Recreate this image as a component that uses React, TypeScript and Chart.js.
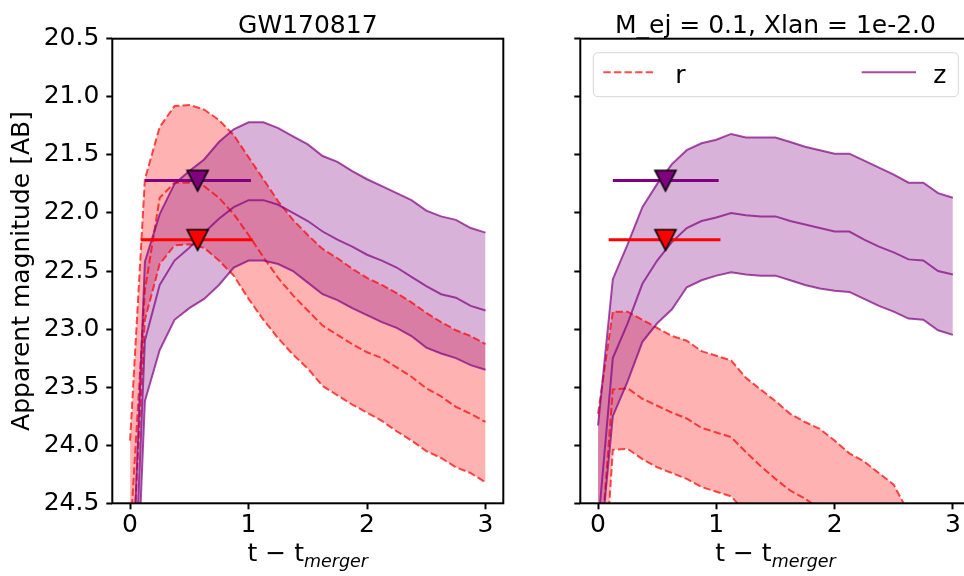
import React, { useEffect, useRef } from 'react';
import { Chart, registerables } from 'chart.js';

Chart.register(...registerables);

// ---------------- data ----------------
const T = [0, 0.125, 0.25, 0.375, 0.5, 0.625, 0.75, 0.875, 1.0, 1.125, 1.25, 1.375, 1.5, 1.625, 1.75, 1.875, 2.0, 2.125, 2.25, 2.375, 2.5, 2.625, 2.75, 2.875, 3.0];

// Left panel: GW170817
const L_R_HI = [23.96, 21.71, 21.26, 21.08, 21.07, 21.11, 21.2, 21.33, 21.52, 21.71, 21.9, 22.06, 22.19, 22.31, 22.39, 22.48, 22.56, 22.62, 22.69, 22.77, 22.86, 22.94, 23.01, 23.06, 23.13];
const L_R_MID = [24.8, 22.67, 21.87, 21.74, 21.74, 21.77, 21.87, 22.01, 22.19, 22.38, 22.56, 22.71, 22.84, 22.97, 23.05, 23.13, 23.2, 23.25, 23.33, 23.41, 23.51, 23.58, 23.67, 23.73, 23.8];
const L_R_LO = [25.4, 22.92, 22.44, 22.28, 22.27, 22.3, 22.41, 22.54, 22.74, 22.92, 23.08, 23.22, 23.34, 23.49, 23.57, 23.65, 23.72, 23.79, 23.88, 23.96, 24.05, 24.11, 24.19, 24.24, 24.32];
const L_Z_HI = [25.7, 22.42, 22.01, 21.75, 21.64, 21.54, 21.39, 21.28, 21.22, 21.22, 21.27, 21.34, 21.41, 21.51, 21.56, 21.64, 21.71, 21.77, 21.83, 21.89, 21.98, 22.03, 22.06, 22.13, 22.17];
const L_Z_MID = [26.2, 23.1, 22.62, 22.41, 22.3, 22.17, 22.05, 21.95, 21.89, 21.89, 21.93, 22.0, 22.07, 22.16, 22.23, 22.29, 22.36, 22.41, 22.47, 22.55, 22.63, 22.7, 22.73, 22.8, 22.84];
const L_Z_LO = [26.7, 23.62, 23.18, 22.92, 22.82, 22.74, 22.62, 22.47, 22.41, 22.41, 22.44, 22.5, 22.6, 22.7, 22.75, 22.82, 22.88, 22.94, 22.99, 23.06, 23.16, 23.21, 23.25, 23.31, 23.35];

// Right panel: M_ej = 0.1, Xlan = 1e-2.0
const R_R_HI = [23.73, 22.85, 22.85, 22.92, 22.99, 23.06, 23.1, 23.19, 23.23, 23.27, 23.42, 23.52, 23.62, 23.73, 23.8, 23.86, 23.96, 24.07, 24.14, 24.24, 24.34, 24.58, 24.75, 24.9, 25.05];
const R_R_MID = [25.2, 23.52, 23.51, 23.6, 23.66, 23.72, 23.77, 23.85, 23.89, 23.93, 24.06, 24.18, 24.29, 24.39, 24.46, 24.55, 24.64, 24.73, 24.8, 24.9, 25.0, 25.15, 25.25, 25.35, 25.45];
const R_R_LO = [26.0, 24.04, 24.03, 24.12, 24.19, 24.24, 24.29, 24.36, 24.4, 24.44, 24.58, 24.7, 24.8, 24.9, 24.97, 25.04, 25.12, 25.2, 25.28, 25.37, 25.45, 25.55, 25.62, 25.7, 25.77];
const R_Z_HI = [23.83, 22.57, 22.27, 21.95, 21.75, 21.58, 21.46, 21.4, 21.37, 21.32, 21.35, 21.35, 21.35, 21.39, 21.43, 21.46, 21.49, 21.49, 21.55, 21.61, 21.67, 21.74, 21.74, 21.83, 21.87];
const R_Z_MID = [24.7, 23.25, 22.95, 22.61, 22.41, 22.25, 22.13, 22.07, 22.04, 22.0, 22.02, 22.03, 22.03, 22.07, 22.1, 22.13, 22.16, 22.16, 22.23, 22.29, 22.34, 22.4, 22.41, 22.5, 22.53];
const R_Z_LO = [25.1, 23.75, 23.45, 23.11, 22.95, 22.83, 22.64, 22.58, 22.54, 22.51, 22.53, 22.54, 22.54, 22.58, 22.62, 22.65, 22.67, 22.68, 22.74, 22.8, 22.85, 22.91, 22.92, 23.01, 23.05];

// observed upper limits (r, z)
const BANDS = ['r', 'z'];
const OBS_T = [0.57, 0.57];
const OBS_MAG = [22.23, 21.72];
const OBS_T_LO = [0.09, 0.125];
const OBS_T_HI = [1.035, 1.02];

const X_TICKS = [0, 1, 2, 3];
const X_TICK_LABELS = ['0', '1', '2', '3'];
const Y_TICKS = [20.5, 21.0, 21.5, 22.0, 22.5, 23.0, 23.5, 24.0, 24.5];
const Y_TICK_LABELS = ['20.5', '21.0', '21.5', '22.0', '22.5', '23.0', '23.5', '24.0', '24.5'];

const TITLES = ['GW170817', 'M_ej = 0.1, Xlan = 1e-2.0'];
const Y_LABEL = 'Apparent magnitude [AB]';

// ---------------- styles ----------------
const FONT = '"DejaVu Sans", sans-serif';
const FS = 25;
const RED_LINE = 'rgba(255,0,0,0.7)';
const RED_FILL = 'rgba(255,0,0,0.3)';
const PUR_LINE = 'rgba(128,0,128,0.7)';
const PUR_FILL = 'rgba(128,0,128,0.3)';
const DASH = [7.4, 3.2];

function makeTriangle(fill: string) {
  const c = document.createElement('canvas');
  c.width = 26;
  c.height = 26;
  const ctx = c.getContext('2d')!;
  ctx.beginPath();
  ctx.moveTo(2.5, 3);
  ctx.lineTo(23.5, 3);
  ctx.lineTo(13, 23.5);
  ctx.closePath();
  ctx.fillStyle = fill;
  ctx.fill();
  ctx.lineWidth = 1.6;
  ctx.strokeStyle = '#000';
  ctx.stroke();
  return c;
}

const pts = (ys: number[]) => T.map((t, i) => ({ x: t, y: ys[i] }));

const decor = {
  id: 'decor',
  afterDatasetsDraw(chart: any) {
    const { ctx, chartArea: a } = chart;
    ctx.save();
    ctx.strokeStyle = '#000';
    ctx.lineWidth = 2;
    ctx.strokeRect(a.left, a.top, a.right - a.left, a.bottom - a.top);
    ctx.restore();
  },
  afterDraw(chart: any, _args: any, opts: any) {
    const { ctx, chartArea: a } = chart;
    const cx = (a.left + a.right) / 2;
    ctx.save();
    ctx.fillStyle = '#000';
    ctx.font = `${FS}px ${FONT}`;
    ctx.textAlign = 'center';
    ctx.textBaseline = 'alphabetic';
    ctx.fillText(opts.title, cx, a.top - 6);

    // x label: t − t_merger
    const main = 't \u2212 t';
    const sub = 'merger';
    ctx.font = `${FS}px ${FONT}`;
    const w1 = ctx.measureText(main).width;
    ctx.font = `italic ${FS * 0.7}px ${FONT}`;
    const w2 = ctx.measureText(sub).width;
    const x0 = cx - (w1 + w2) / 2;
    ctx.textAlign = 'left';
    ctx.font = `${FS}px ${FONT}`;
    ctx.fillText(main, x0, 561);
    ctx.font = `italic ${FS * 0.7}px ${FONT}`;
    ctx.fillText(sub, x0 + w1, 567);

    if (opts.ylabel) {
      ctx.save();
      ctx.translate(22.5, (a.top + a.bottom) / 2);
      ctx.rotate(-Math.PI / 2);
      ctx.font = `${FS}px ${FONT}`;
      ctx.textAlign = 'center';
      ctx.textBaseline = 'middle';
      ctx.fillText(opts.ylabel, 0, 0);
      ctx.restore();
    }

    if (opts.legend) {
      const bx = a.left + 13;
      const by = a.top + 14;
      const bw = 365;
      const bh = 44;
      const r = 5;
      ctx.beginPath();
      ctx.moveTo(bx + r, by);
      ctx.lineTo(bx + bw - r, by);
      ctx.quadraticCurveTo(bx + bw, by, bx + bw, by + r);
      ctx.lineTo(bx + bw, by + bh - r);
      ctx.quadraticCurveTo(bx + bw, by + bh, bx + bw - r, by + bh);
      ctx.lineTo(bx + r, by + bh);
      ctx.quadraticCurveTo(bx, by + bh, bx, by + bh - r);
      ctx.lineTo(bx, by + r);
      ctx.quadraticCurveTo(bx, by, bx + r, by);
      ctx.closePath();
      ctx.fillStyle = 'rgba(255,255,255,0.8)';
      ctx.fill();
      ctx.strokeStyle = '#d6d6d6';
      ctx.lineWidth = 1;
      ctx.stroke();

      const ly = by + 19.6;
      ctx.lineWidth = 2;
      ctx.strokeStyle = RED_LINE;
      ctx.setLineDash(DASH);
      ctx.beginPath();
      ctx.moveTo(bx + 10, ly);
      ctx.lineTo(bx + 62, ly);
      ctx.stroke();
      ctx.setLineDash([]);
      ctx.strokeStyle = PUR_LINE;
      ctx.beginPath();
      ctx.moveTo(bx + 268.4, ly);
      ctx.lineTo(bx + 322.7, ly);
      ctx.stroke();

      ctx.fillStyle = '#000';
      ctx.font = `${FS}px ${FONT}`;
      ctx.textAlign = 'left';
      ctx.textBaseline = 'alphabetic';
      ctx.fillText(BANDS[0], bx + 82, by + 29.8);
      ctx.fillText(BANDS[1], bx + 340, by + 29.8);
    }
    ctx.restore();
  },
};

type PanelProps = {
  left: number;
  yWidth: number;
  padRight: number;
  showYLabels: boolean;
  title: string;
  ylabel: string | null;
  legend: boolean;
  r: number[][];
  z: number[][];
};

function Panel(p: PanelProps) {
  const ref = useRef<HTMLCanvasElement | null>(null);
  useEffect(() => {
    if (!ref.current) return;
    const triR = makeTriangle('#ff0000');
    const triZ = makeTriangle('#800080');
    const band = (data: number[], color: string, dash: number[], order: number, fill: any, bg: string) => ({
      data: pts(data),
      borderColor: color,
      borderWidth: 2,
      borderDash: dash,
      pointRadius: 0,
      tension: 0,
      order,
      fill,
      backgroundColor: bg,
    });
    const datasets: any[] = [
      band(p.r[0], RED_LINE, DASH, 3, 2, RED_FILL),
      band(p.r[1], RED_LINE, DASH, 3, false, 'transparent'),
      band(p.r[2], RED_LINE, DASH, 3, false, 'transparent'),
      band(p.z[0], PUR_LINE, [], 2, 5, PUR_FILL),
      band(p.z[1], PUR_LINE, [], 2, false, 'transparent'),
      band(p.z[2], PUR_LINE, [], 2, false, 'transparent'),
      {
        data: [{ x: OBS_T_LO[1], y: OBS_MAG[1] }, { x: OBS_T_HI[1], y: OBS_MAG[1] }],
        borderColor: '#800080', borderWidth: 3, pointRadius: 0, order: 1, fill: false,
      },
      {
        data: [{ x: OBS_T_LO[0], y: OBS_MAG[0] }, { x: OBS_T_HI[0], y: OBS_MAG[0] }],
        borderColor: '#ff0000', borderWidth: 3, pointRadius: 0, order: 1, fill: false,
      },
      {
        data: [{ x: OBS_T[1], y: OBS_MAG[1] }],
        showLine: false, pointStyle: triZ, pointRadius: 11, order: 0, fill: false,
      },
      {
        data: [{ x: OBS_T[0], y: OBS_MAG[0] }],
        showLine: false, pointStyle: triR, pointRadius: 11, order: 0, fill: false,
      },
    ];
    const tickFont = { family: FONT, size: FS, lineHeight: 1.2 };
    const chart = new Chart(ref.current, {
      type: 'line',
      data: { datasets },
      plugins: [decor as any],
      options: {
        responsive: false,
        animation: false,
        events: [],
        layout: { padding: { left: 0, top: 38.7, right: p.padRight, bottom: 0 } },
        plugins: {
          legend: { display: false },
          tooltip: { enabled: false },
          title: { display: false },
          filler: { propagate: false, drawTime: 'beforeDatasetsDraw' },
          decor: { title: p.title, ylabel: p.ylabel, legend: p.legend },
        } as any,
        scales: {
          x: {
            type: 'linear',
            min: -0.15,
            max: 3.15,
            afterBuildTicks: (s: any) => { s.ticks = X_TICKS.map((v) => ({ value: v })); },
            afterFit: (s: any) => { s.height = 72.7; },
            ticks: {
              autoSkip: false,
              maxRotation: 0,
              padding: 1,
              color: '#000',
              font: tickFont,
              callback: (_v: any, i: number) => X_TICK_LABELS[i],
            },
            grid: { drawOnChartArea: false, drawTicks: true, tickLength: 6, tickWidth: 2, tickColor: '#000' },
            border: { display: false },
          },
          y: {
            type: 'linear',
            reverse: true,
            min: 20.5,
            max: 24.5,
            afterBuildTicks: (s: any) => { s.ticks = Y_TICKS.map((v) => ({ value: v })); },
            afterFit: (s: any) => { s.width = p.yWidth; },
            ticks: {
              autoSkip: false,
              padding: 7,
              color: '#000',
              font: tickFont,
              callback: (_v: any, i: number) => (p.showYLabels ? Y_TICK_LABELS[i] : ''),
            },
            grid: { drawOnChartArea: false, drawTicks: true, tickLength: 6, tickWidth: 2, tickColor: '#000' },
            border: { display: false },
          },
        },
      } as any,
    });
    return () => chart.destroy();
  }, []);
  return (
    <canvas
      ref={ref}
      width={520}
      height={576}
      style={{ position: 'absolute', left: p.left, top: 0, width: 520, height: 576 }}
    />
  );
}

export default function App() {
  return (
    <div
      style={{
        position: 'fixed',
        left: 0,
        top: 0,
        width: 964,
        height: 576,
        overflow: 'hidden',
        background: '#ffffff',
      }}
    >
      <Panel
        left={0}
        yWidth={112.3}
        padRight={16.7}
        showYLabels={true}
        title={TITLES[0]}
        ylabel={Y_LABEL}
        legend={false}
        r={[L_R_HI, L_R_MID, L_R_LO]}
        z={[L_Z_HI, L_Z_MID, L_Z_LO]}
      />
      <Panel
        left={520}
        yWidth={60.3}
        padRight={69.4}
        showYLabels={false}
        title={TITLES[1]}
        ylabel={null}
        legend={true}
        r={[R_R_HI, R_R_MID, R_R_LO]}
        z={[R_Z_HI, R_Z_MID, R_Z_LO]}
      />
    </div>
  );
}
